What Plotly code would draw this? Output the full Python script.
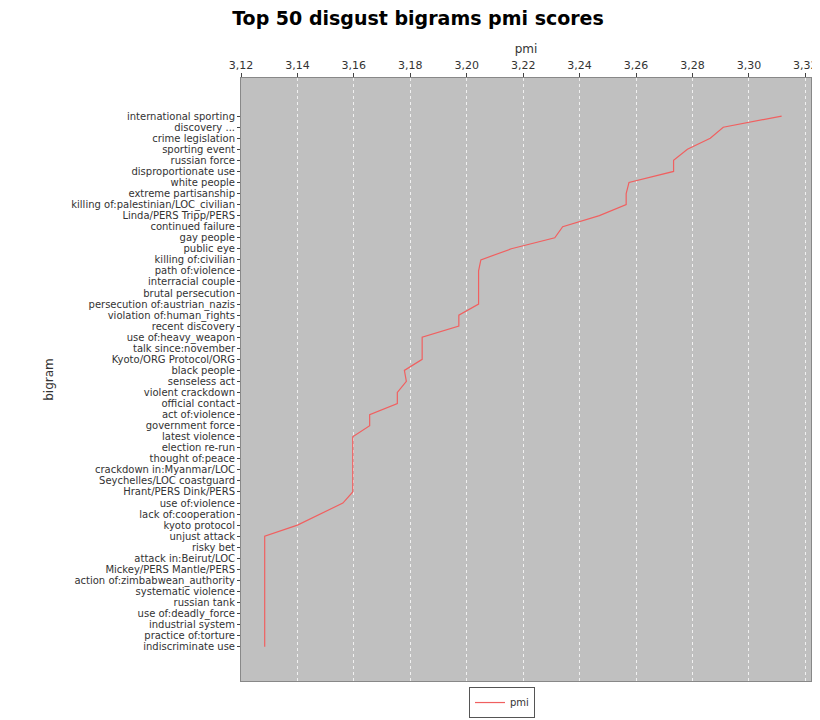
import plotly.graph_objs as go

bigrams = [
    "international sporting", "discovery ...", "crime legislation", "sporting event",
    "russian force", "disproportionate use", "white people", "extreme partisanship",
    "killing of:palestinian/LOC_civilian", "Linda/PERS Tripp/PERS", "continued failure",
    "gay people", "public eye", "killing of:civilian", "path of:violence",
    "interracial couple", "brutal persecution", "persecution of:austrian_nazis",
    "violation of:human_rights", "recent discovery", "use of:heavy_weapon",
    "talk since:november", "Kyoto/ORG Protocol/ORG", "black people", "senseless act",
    "violent crackdown", "official contact", "act of:violence", "government force",
    "latest violence", "election re-run", "thought of:peace", "crackdown in:Myanmar/LOC",
    "Seychelles/LOC coastguard", "Hrant/PERS Dink/PERS", "use of:violence",
    "lack of:cooperation", "kyoto protocol", "unjust attack", "risky bet",
    "attack in:Beirut/LOC", "Mickey/PERS Mantle/PERS", "action of:zimbabwean_authority",
    "systematic violence", "russian tank", "use of:deadly_force", "industrial system",
    "practice of:torture", "indiscriminate use",
]
pmi = [
    3.3116, 3.2909, 3.2863, 3.2782, 3.2733, 3.2733, 3.2575, 3.2565, 3.2565, 3.2470,
    3.2340, 3.2312, 3.2158, 3.2050, 3.2042, 3.2042, 3.2042, 3.2042, 3.1972, 3.1972,
    3.1842, 3.1842, 3.1842, 3.1779, 3.1786, 3.1754, 3.1754, 3.1656, 3.1656, 3.1596,
    3.1596, 3.1596, 3.1596, 3.1596, 3.1596, 3.1561, 3.1480, 3.1400, 3.1284, 3.1284,
    3.1284, 3.1284, 3.1284, 3.1284, 3.1284, 3.1284, 3.1284, 3.1284, 3.1284,
]

font = "DejaVu Sans"
fig = go.Figure()
fig.add_trace(go.Scatter(x=pmi, y=bigrams, mode="lines", name="pmi",
                         line=dict(color="#f06060", width=1.2)))
n = len(bigrams)
fig.update_layout(
    width=820, height=720,
    margin=dict(l=233, r=10, t=70, b=32),
    paper_bgcolor="white", plot_bgcolor="#c0c0c0",
    separators=", ",
    font=dict(family=font, size=10, color="#333333"),
    title=dict(text="<b>Top 50 disgust bigrams pmi scores</b>", x=0.5, xanchor="center",
               y=0.995, yanchor="top", font=dict(size=19, color="black")),
    showlegend=True,
    legend=dict(orientation="h", x=0.4, xanchor="left", y=-0.01, yanchor="top",
                bordercolor="#555555", borderwidth=1, font=dict(size=10),
                itemwidth=30),
    xaxis=dict(side="top", range=[3.12, 3.322], dtick=0.02, tickformat=".2f",
               title=dict(text="pmi", font=dict(size=12), standoff=2),
               showgrid=True, gridcolor="#f0f0f0", griddash="dot", gridwidth=0.6,
               zeroline=False, showline=True, linecolor="#888888", mirror=True,
               ticks="outside", ticklen=4, tickfont=dict(size=11)),
    yaxis=dict(type="category", range=[n - 1 + 3.1, -3.45], dtick=1,
               title=dict(text="bigram", font=dict(size=12)),
               showgrid=False, showline=True, linecolor="#888888", mirror=True,
               ticks="outside", ticklen=3, tickfont=dict(size=10)),
)
fig.write_html("out.html")
